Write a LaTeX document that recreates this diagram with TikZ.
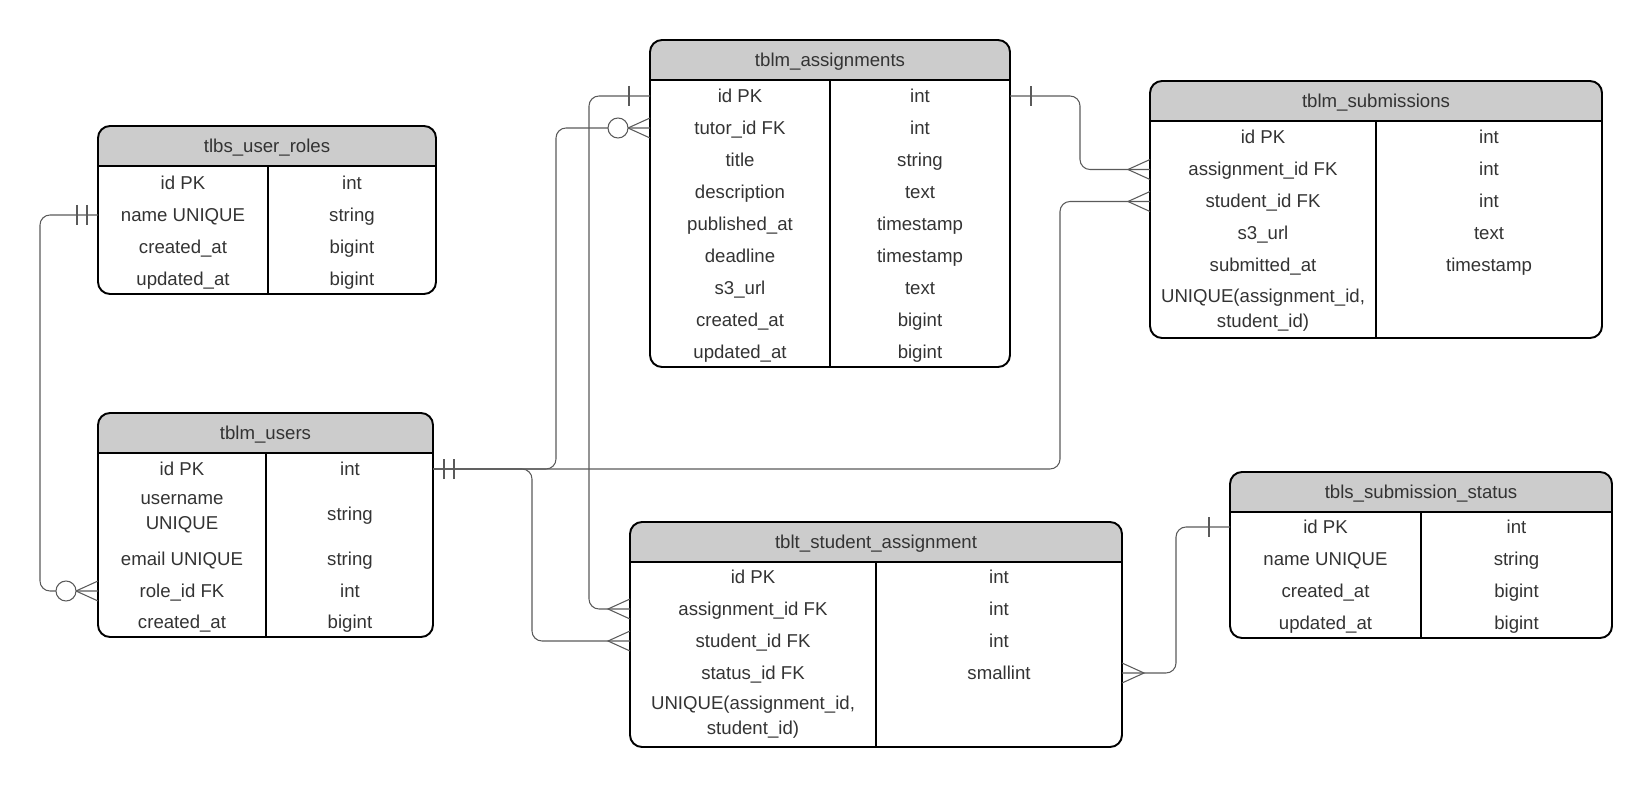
\documentclass[tikz,border=0pt]{standalone}
\usepackage{fontspec}
\setmainfont{Liberation Sans}
\usepackage{xcolor}
\usepackage{tikz}
\usetikzlibrary{fit}
\definecolor{ink}{HTML}{333333}
\definecolor{hdrgray}{HTML}{CCCCCC}
\definecolor{wirec}{HTML}{5A5A5A}

\begin{document}
\begin{tikzpicture}[x=0.02cm, y=-0.02cm,
    tbl/.style={draw=black, line width=1.1pt, rounded corners=0.24cm, inner sep=0pt, outer sep=0pt,
        path picture={\fill[hdrgray, sharp corners] (path picture bounding box.north west) rectangle ([yshift=-0.8cm]path picture bounding box.north east);
            \draw[line width=1.1pt, sharp corners] ([yshift=-0.8cm]path picture bounding box.north west) -- ([yshift=-0.8cm]path picture bounding box.north east);}},
    txt2/.style={text=ink, font=\fontsize{10.6}{14.5}\selectfont, align=center, inner sep=0pt},
    txt/.style={txt2, text height=0.95em, text depth=0.23em},
    wire/.style={draw=wirec, line width=0.6pt},
    relline/.style={wire, rounded corners=0.2cm},
    pics/onebar/.style={code={\draw[wire] (-21,-10) -- (-21,10);}},
    pics/twobar/.style={code={\draw[wire] (-11,-10) -- (-11,10) (-21,-10) -- (-21,10);}},
    pics/crow/.style={code={\draw[wire] (0,-10) -- (-22,0) -- (0,10);}},
    pics/ringcrow/.style={code={\draw[wire] (0,-10) -- (-22,0) -- (0,10); \draw[wire, fill=white] (-32,0) circle[radius=0.2cm];}}]
    \useasboundingbox (0,0) rectangle (1652,787);

    \foreach \n/\xa/\ya/\xb/\yb/\xd/\ttl in {
        roles/98/126/436/294/268/tlbs\_user\_roles,
        users/98/413/433/637/266/tblm\_users,
        assignments/650/40/1010/367/830/tblm\_assignments,
        submissions/1150/81/1602/338/1376/tblm\_submissions,
        stassign/630/522/1122/747/876/tblt\_student\_assignment,
        substatus/1230/472/1612/638/1421/tbls\_submission\_status}
    {
        \node[tbl, fit={(\xa,\ya) (\xb,\yb)}] (\n) {};
        \draw[line width=1.1pt] (\xd,{\ya+40}) -- (\xd,\yb);
        \node[txt] (\n-h) at ({(\xa+\xb)/2},{\ya+20}) {\ttl};
    }

    \foreach \k/\t [count=\i] in {id PK/int, name UNIQUE/string, created\_at/bigint, updated\_at/bigint}
    {
        \node[txt] (roles-k\i) at (183,{151+32*\i}) {\k};
        \node[txt] (roles-t\i) at (352,{151+32*\i}) {\t};
    }
    \node[txt2] (users-k2) at (182,514) {username\\UNIQUE};
    \foreach \y/\k/\t [count=\i] in {469/id PK/int, 514//string, 559/email UNIQUE/string, 591/role\_id FK/int, 622/created\_at/bigint}
    {
        \ifnum\i=2 \else \node[txt] (users-k\i) at (182,\y) {\k}; \fi
        \node[txt] (users-t\i) at (350,\y) {\t};
    }
    \foreach \k/\t [count=\i] in {id PK/int, tutor\_id FK/int, title/string, description/text, published\_at/timestamp, deadline/timestamp, s3\_url/text, created\_at/bigint, updated\_at/bigint}
    {
        \node[txt] (assignments-k\i) at (740,{64+32*\i}) {\k};
        \node[txt] (assignments-t\i) at (920,{64+32*\i}) {\t};
    }
    \foreach \k/\t [count=\i] in {id PK/int, assignment\_id FK/int, student\_id FK/int, s3\_url/text, submitted\_at/timestamp}
    {
        \node[txt] (submissions-k\i) at (1263,{105.5+32*\i}) {\k};
        \node[txt] (submissions-t\i) at (1489,{105.5+32*\i}) {\t};
    }
    \node[txt2] (submissions-k6) at (1263,310) {UNIQUE(assignment\_id,\\student\_id)};
    \foreach \k/\t [count=\i] in {id PK/int, assignment\_id FK/int, student\_id FK/int, status\_id FK/smallint}
    {
        \node[txt] (stassign-k\i) at (753,{545+32*\i}) {\k};
        \node[txt] (stassign-t\i) at (999,{545+32*\i}) {\t};
    }
    \node[txt2] (stassign-k5) at (753,717) {UNIQUE(assignment\_id,\\student\_id)};
    \foreach \k/\t [count=\i] in {id PK/int, name UNIQUE/string, created\_at/bigint, updated\_at/bigint}
    {
        \node[txt] (substatus-k\i) at (1325.5,{495+32*\i}) {\k};
        \node[txt] (substatus-t\i) at (1516.5,{495+32*\i}) {\t};
    }

    \draw[relline] (roles.west |- roles-k2) -- ++(-58,0) |- (users.west |- users-k4);
    \draw[relline] (users.east |- users-k1) -- ++(123,0) |- (assignments.west |- assignments-k2);
    \draw[relline] (users.east |- users-k1) -- ++(99,0) |- (stassign.west |- stassign-k3);
    \draw[relline] (users.east |- users-k1) -- ++(627,0) |- (submissions.west |- submissions-k3);
    \draw[relline] (assignments.west |- assignments-k1) -- ++(-61,0) |- (stassign.west |- stassign-k2);
    \draw[relline] (assignments.east |- assignments-k1) -- ++(70,0) |- (submissions.west |- submissions-k2);
    \draw[relline] (stassign.east |- stassign-k4) -- ++(54,0) |- (substatus.west |- substatus-k1);

    \pic at (roles.west |- roles-k2) {twobar};
    \pic at (users.west |- users-k4) {ringcrow};
    \pic[rotate=180] at (users.east |- users-k1) {twobar};
    \pic at (assignments.west |- assignments-k2) {ringcrow};
    \pic at (stassign.west |- stassign-k3) {crow};
    \pic at (submissions.west |- submissions-k3) {crow};
    \pic at (assignments.west |- assignments-k1) {onebar};
    \pic at (stassign.west |- stassign-k2) {crow};
    \pic[rotate=180] at (assignments.east |- assignments-k1) {onebar};
    \pic at (submissions.west |- submissions-k2) {crow};
    \pic[rotate=180] at (stassign.east |- stassign-k4) {crow};
    \pic at (substatus.west |- substatus-k1) {onebar};
\end{tikzpicture}
\end{document}
